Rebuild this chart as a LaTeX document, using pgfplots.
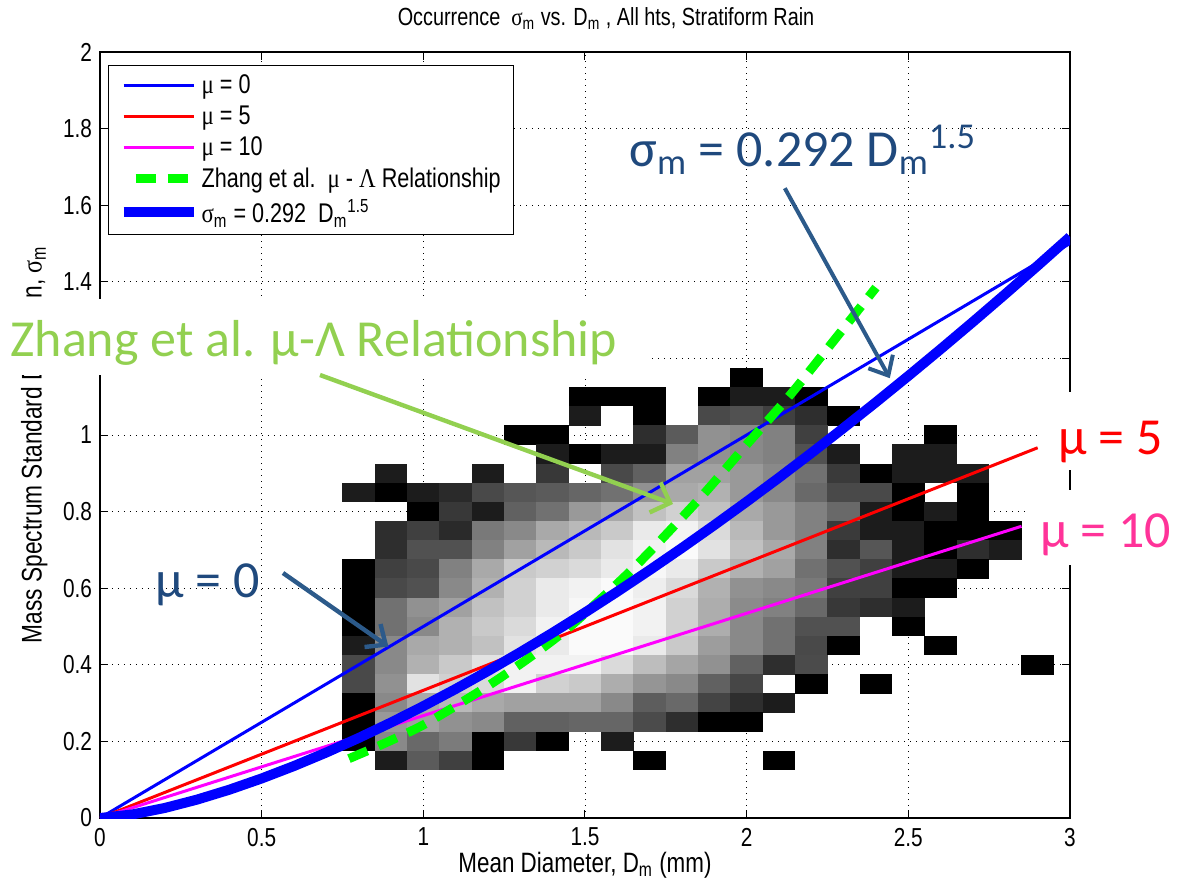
\documentclass[border=0pt]{standalone}
\usepackage{fontspec}
\setmainfont{Liberation Sans}[FakeStretch=0.8]
\newfontfamily\grk{Liberation Serif}[FakeStretch=0.85]
\newfontfamily\calib{Carlito}
\usepackage{pgfplots}
\usepackage{pgfplotstable}
\pgfplotsset{compat=1.18}
\usetikzlibrary{arrows.meta}
\definecolor{zgreen}{RGB}{146,208,80}
\definecolor{dblue}{RGB}{31,73,125}
\definecolor{ablue}{RGB}{44,90,138}
\definecolor{mpink}{RGB}{255,51,153}
\definecolor{mblue}{RGB}{0,0,255}
\definecolor{mred}{RGB}{255,0,0}
\definecolor{mmag}{RGB}{255,0,255}
\definecolor{mgreen}{RGB}{0,255,0}
\pgfplotsset{
  lineleg/.style={legend image code/.code={\draw[##1, line cap=butt] (0pt,0pt) -- (35pt,0pt);}},
  greenleg/.style={legend image code/.code={\draw[##1, line cap=butt] (6pt,0pt) -- (35pt,0pt);}},
}
\pgfdeclareplotmark{cell}{%
  \pgfpathrectangle{\pgfpoint{-8.2pt}{-4.9pt}}{\pgfpoint{16.4pt}{9.8pt}}%
  \pgfusepathqfill}
\pgfplotstableread{
x y g
2.0 1.15 0
1.5 1.10 0
1.6 1.10 0
1.7 1.10 0
1.9 1.10 0
2.0 1.10 28
2.1 1.10 28
2.2 1.10 0
1.5 1.05 28
1.7 1.05 0
1.9 1.05 72
2.0 1.05 80
2.1 1.05 64
2.2 1.05 46
2.3 1.05 0
1.3 1.00 0
1.4 1.00 0
1.7 1.00 46
1.8 1.00 90
1.9 1.00 144
2.0 1.00 136
2.1 1.00 128
2.2 1.00 64
2.6 1.00 0
1.4 0.95 28
1.5 0.95 0
1.6 0.95 28
1.7 0.95 28
1.8 0.95 128
1.9 0.95 144
2.0 0.95 136
2.1 0.95 128
2.2 0.95 80
2.3 0.95 28
2.5 0.95 28
2.6 0.95 28
0.9 0.90 28
1.2 0.90 28
1.4 0.90 56
1.6 0.90 72
1.7 0.90 96
1.8 0.90 160
1.9 0.90 160
2.0 0.90 152
2.1 0.90 136
2.2 0.90 112
2.3 0.90 58
2.4 0.90 0
2.5 0.90 28
2.6 0.90 28
2.7 0.90 28
0.8 0.85 28
0.9 0.85 0
1.0 0.85 28
1.1 0.85 42
1.2 0.85 72
1.3 0.85 85
1.4 0.85 90
1.5 0.85 101
1.6 0.85 112
1.7 0.85 144
1.8 0.85 168
1.9 0.85 176
2.0 0.85 152
2.1 0.85 136
2.2 0.85 104
2.3 0.85 72
2.4 0.85 72
2.5 0.85 0
2.7 0.85 0
1.0 0.80 0
1.1 0.80 56
1.2 0.80 28
1.3 0.80 96
1.4 0.80 112
1.5 0.80 152
1.6 0.80 168
1.7 0.80 192
1.8 0.80 208
1.9 0.80 192
2.0 0.80 168
2.1 0.80 152
2.2 0.80 128
2.3 0.80 104
2.4 0.80 28
2.5 0.80 0
2.6 0.80 28
2.7 0.80 0
0.9 0.75 46
1.0 0.75 64
1.1 0.75 42
1.2 0.75 120
1.3 0.75 136
1.4 0.75 168
1.5 0.75 184
1.6 0.75 200
1.7 0.75 232
1.8 0.75 240
1.9 0.75 216
2.0 0.75 184
2.1 0.75 152
2.2 0.75 128
2.3 0.75 58
2.4 0.75 28
2.5 0.75 28
2.6 0.75 0
2.7 0.75 0
2.8 0.75 0
0.9 0.70 46
1.0 0.70 80
1.1 0.70 80
1.2 0.70 128
1.3 0.70 160
1.4 0.70 184
1.5 0.70 200
1.6 0.70 224
1.7 0.70 240
1.8 0.70 248
1.9 0.70 224
2.0 0.70 192
2.1 0.70 168
2.2 0.70 128
2.3 0.70 46
2.4 0.70 85
2.5 0.70 28
2.6 0.70 0
2.7 0.70 46
2.8 0.70 28
0.8 0.65 0
0.9 0.65 64
1.0 0.65 72
1.1 0.65 128
1.2 0.65 168
1.3 0.65 200
1.4 0.65 208
1.5 0.65 216
1.6 0.65 232
1.7 0.65 245
1.8 0.65 232
1.9 0.65 200
2.0 0.65 176
2.1 0.65 160
2.2 0.65 112
2.3 0.65 80
2.4 0.65 64
2.5 0.65 28
2.6 0.65 28
2.7 0.65 0
0.8 0.60 0
0.9 0.60 72
1.0 0.60 80
1.1 0.60 136
1.2 0.60 176
1.3 0.60 208
1.4 0.60 232
1.5 0.60 240
1.6 0.60 248
1.7 0.60 236
1.8 0.60 216
1.9 0.60 176
2.0 0.60 144
2.1 0.60 136
2.2 0.60 120
2.3 0.60 64
2.4 0.60 64
2.5 0.60 0
2.6 0.60 0
0.8 0.55 0
0.9 0.55 112
1.0 0.55 144
1.1 0.55 160
1.2 0.55 192
1.3 0.55 208
1.4 0.55 232
1.5 0.55 245
1.6 0.55 248
1.7 0.55 240
1.8 0.55 208
1.9 0.55 172
2.0 0.55 138
2.1 0.55 128
2.2 0.55 104
2.3 0.55 56
2.4 0.55 46
2.5 0.55 28
0.8 0.50 0
0.9 0.50 112
1.0 0.50 136
1.1 0.50 176
1.2 0.50 200
1.3 0.50 216
1.4 0.50 240
1.5 0.50 248
1.6 0.50 248
1.7 0.50 240
1.8 0.50 208
1.9 0.50 172
2.0 0.50 136
2.1 0.50 112
2.2 0.50 80
2.3 0.50 80
2.5 0.50 0
0.8 0.45 28
0.9 0.45 136
1.0 0.45 168
1.1 0.45 176
1.2 0.45 192
1.3 0.45 224
1.4 0.45 232
1.5 0.45 248
1.6 0.45 248
1.7 0.45 232
1.8 0.45 200
1.9 0.45 156
2.0 0.45 136
2.1 0.45 112
2.2 0.45 72
2.3 0.45 0
2.6 0.45 0
0.8 0.40 72
0.9 0.40 136
1.0 0.40 176
1.1 0.40 200
1.2 0.40 224
1.3 0.40 240
1.4 0.40 240
1.5 0.40 240
1.6 0.40 216
1.7 0.40 188
1.8 0.40 164
1.9 0.40 144
2.0 0.40 96
2.1 0.40 46
2.2 0.40 74
2.9 0.40 0
0.8 0.35 72
0.9 0.35 144
1.0 0.35 224
1.1 0.35 208
1.2 0.35 216
1.3 0.35 240
1.4 0.35 208
1.5 0.35 200
1.6 0.35 172
1.7 0.35 148
1.8 0.35 136
1.9 0.35 96
2.0 0.35 70
2.2 0.35 0
2.4 0.35 0
0.8 0.30 0
0.9 0.30 136
1.0 0.30 168
1.1 0.30 184
1.2 0.30 168
1.3 0.30 160
1.4 0.30 160
1.5 0.30 160
1.6 0.30 136
1.7 0.30 92
1.8 0.30 104
1.9 0.30 68
2.0 0.30 46
2.1 0.30 28
0.8 0.25 0
0.9 0.25 152
1.0 0.25 160
1.1 0.25 144
1.2 0.25 136
1.3 0.25 96
1.4 0.25 96
1.5 0.25 101
1.6 0.25 101
1.7 0.25 74
1.8 0.25 46
1.9 0.25 0
2.0 0.25 0
0.8 0.20 0
0.9 0.20 136
1.0 0.20 104
1.1 0.20 122
1.2 0.20 0
1.3 0.20 56
1.4 0.20 0
1.6 0.20 28
0.9 0.15 28
1.0 0.15 90
1.1 0.15 64
1.2 0.15 0
1.7 0.15 0
2.1 0.15 0
}\cells
\begin{document}
\begin{tikzpicture}
\useasboundingbox (-50pt,-33pt) rectangle (539pt,409pt);
\begin{axis}[
  at={(0pt,0pt)}, anchor=south west,
  scale only axis, width=485pt, height=383pt,
  xmin=0, xmax=3, ymin=0, ymax=2,
  clip marker paths=true,
  xtick={0,0.5,1,1.5,2,2.5,3},
  ytick={0,0.2,0.4,0.6,0.8,1,1.2,1.4,1.6,1.8,2},
  tick align=inside, major tick length=4pt,
  tick style={black, line width=0.5pt},
  axis line style={black, line width=0.6pt},
  grid=major,
  major grid style={black, line width=0.45pt, dash pattern=on 0.5pt off 2.5pt},
  tick label style={font=\fontsize{13}{15}\selectfont},
  /pgf/number format/assume math mode=true,
  xticklabel style={yshift=-1.5pt},
  yticklabel style={xshift=-0.5pt},
  xlabel={Mean Diameter, D\textsubscript{m} (mm)},
  xlabel style={at={(axis description cs:0.5,0)}, anchor=base, yshift=-27pt, font=\fontsize{14}{16}\selectfont},
  ylabel={Mass Spectrum Standard Deviation, {\grk σ}\textsubscript{m}},
  ylabel style={at={(axis description cs:-0.0602,0.4875)}, anchor=base, font=\fontsize{14.2}{16}\selectfont},
  colormap={bw}{gray(0cm)=(0); gray(1cm)=(1)},
  point meta min=0, point meta max=255,
  legend style={at={(axis description cs:0.00825,0.983)}, anchor=north west, draw=black, line width=0.6pt, fill=white, font=\fontsize{13.5}{15}\selectfont, row sep=1.6pt, inner xsep=5pt, inner ysep=3pt, nodes={inner sep=1.5pt}},
  legend cell align=left,
  lineleg,
]
\addplot[scatter, only marks, mark=cell, point meta=explicit, forget plot,
  scatter/use mapped color={draw=mapped color, fill=mapped color}]
  table[x=x, y=y, meta=g] {\cells};
\addplot[mblue, line width=1.5pt] coordinates {(0,0) (3,1.5)};
\addlegendentry{{\grk μ} = 0}
\addplot[mred, line width=1.5pt] coordinates {(0,0) (2.9,0.9667)};
\addlegendentry{{\grk μ} = 5}
\addplot[mmag, line width=1.5pt] coordinates {(0,0) (2.85,0.7617)};
\addlegendentry{{\grk μ} = 10}
\addplot[mgreen, line width=4.5pt, dash pattern=on 10pt off 6pt, smooth, greenleg]
  coordinates {(0.77,0.155) (0.88,0.195) (1.0,0.243) (1.13,0.308) (1.22,0.356) (1.33,0.42) (1.45,0.497) (1.6,0.612) (1.7,0.695) (1.85,0.83) (1.92,0.897) (2.0,0.975) (2.13,1.1) (2.24,1.215) (2.40,1.385)};
\addlegendentry{Zhang et al.\ \ {\grk μ} - {\grk Λ} Relationship}
\addplot[mblue, line width=5pt] coordinates {(0,0) (0.1,0.00923) (0.2,0.02612) (0.3,0.04798) (0.4,0.07387) (0.5,0.10324) (0.6,0.13571) (0.7,0.17101) (0.8,0.20894) (0.9,0.24931) (1.0,0.292) (1.1,0.33688) (1.2,0.38384) (1.3,0.43281) (1.4,0.4837) (1.5,0.53644) (1.6,0.59097) (1.7,0.64722) (1.8,0.70517) (1.9,0.76474) (2.0,0.8259) (2.1,0.88861) (2.2,0.95283) (2.3,1.01853) (2.4,1.08567) (2.5,1.15423) (2.6,1.22417) (2.7,1.29547) (2.8,1.3681) (2.9,1.44205) (3.0,1.51728)};
\addlegendentry{{\grk σ}\textsubscript{m} = 0.292\ \ D\textsubscript{m}\textsuperscript{1.5}}
\end{axis}
% title
\node[anchor=base, inner sep=0pt, font=\fontsize{12.4}{14}\selectfont] at (253pt,396pt) {Occurrence\ \ {\grk σ}\textsubscript{m} vs. D\textsubscript{m} , All hts, Stratiform Rain};
% Zhang annotation
\fill[white] (-50pt,221.5pt) rectangle (275pt,259.5pt);
\node[anchor=base west, inner sep=0pt, text=zgreen, font=\calib\fontsize{26}{30}\selectfont] at (-45pt,230.5pt) {Zhang et al. μ-Λ Relationship};
\draw[zgreen, line width=2.2pt, -{Straight Barb[length=8pt,width=16pt]}] (110pt,221.5pt) -- (286.5pt,157pt);
% sigma annotation
\node[anchor=base west, inner sep=0pt, text=dblue, font=\calib\fontsize{26}{30}\selectfont] at (264.5pt,325.5pt) {σ\textsubscript{m} = 0.292 D\textsubscript{m}\textsuperscript{1.5}};
\draw[ablue, line width=2pt, -{Straight Barb[length=8pt,width=14pt]}] (342.4pt,314.9pt) -- (394.9pt,219.9pt);
% mu = 0
\node[anchor=base west, inner sep=0pt, text=dblue, font=\calib\fontsize{26}{30}\selectfont] at (27.5pt,110pt) {μ = 0};
\draw[ablue, line width=2.2pt, -{Straight Barb[length=8pt,width=14pt]}] (91.5pt,122.5pt) -- (144.2pt,85.7pt);
% mu = 5
\fill[white] (470pt,174pt) rectangle (539pt,213pt);
\node[anchor=base west, inner sep=0pt, text=mred, font=\calib\fontsize{26}{30}\selectfont] at (479pt,181.5pt) {μ = 5};
% mu = 10
\fill[white] (465pt,126.5pt) rectangle (539pt,164pt);
\node[anchor=base west, inner sep=0pt, text=mpink, font=\calib\fontsize{26}{30}\selectfont] at (470pt,135pt) {μ = 10};
\end{tikzpicture}
\end{document}
